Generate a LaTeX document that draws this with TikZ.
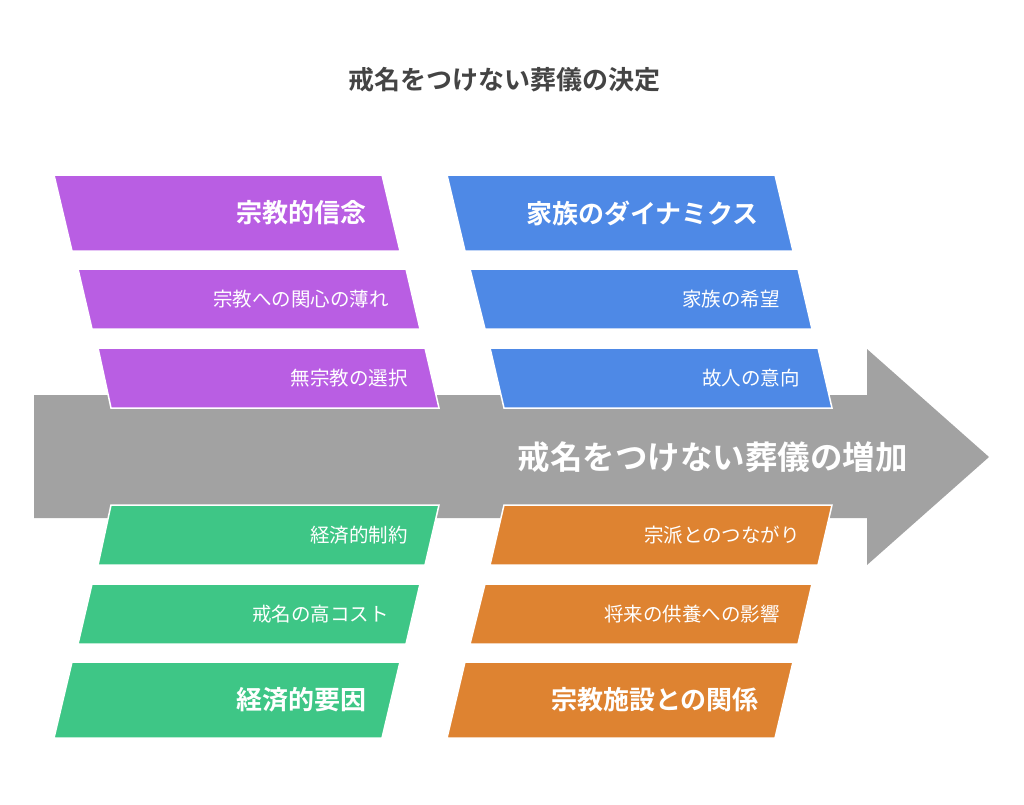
\documentclass[tikz,border=0pt]{standalone}
\usepackage{fontspec}
\usepackage{tikz}
\usepackage{xcolor}
\newfontfamily\cjk{Noto Sans CJK JP}[BoldFont={Noto Sans CJK JP Bold}]
\definecolor{beliefc}{RGB}{185,94,227}
\definecolor{familyc}{RGB}{78,137,230}
\definecolor{costc}{RGB}{62,198,134}
\definecolor{templec}{RGB}{222,131,49}
\definecolor{flowc}{RGB}{162,162,162}
\definecolor{titlec}{RGB}{68,68,68}

\begin{document}
\begin{tikzpicture}[x=1pt, y=-1pt, inner sep=0pt,
		slab/.style={draw=white, line width=1.5pt},
		hdr/.style={anchor=east, text=white, font=\cjk\bfseries\fontsize{26}{30}\selectfont},
		sub/.style={anchor=east, text=white, font=\cjk\fontsize{19.5}{23}\selectfont}]
			\useasboundingbox (0,0) rectangle (1024,804);
			\node[text=titlec, font=\cjk\bfseries\fontsize{26}{30}\selectfont] (title) at (504,80) {戒名をつけない葬儀の決定};
			% main arrow
			\fill[flowc] (34,395) -- (867,395) -- (867,349) -- (989,457) -- (867,565) -- (867,518) -- (34,518) -- cycle;
			\node[anchor=east, text=white, font=\cjk\bfseries\fontsize{32.5}{38}\selectfont] (rise) at (908,457) {戒名をつけない葬儀の増加};
			% upper left
			\filldraw[slab, fill=beliefc] (54,175) -- (382,175) -- (400,251) -- (72,251) -- cycle;
			\filldraw[slab, fill=beliefc] (78,269) -- (406,269) -- (420,329) -- (92,329) -- cycle;
			\filldraw[slab, fill=beliefc] (98,348) -- (425,348) -- (439,408) -- (111,408) -- cycle;
			\node[hdr] (belief) at (367,213) {宗教的信念};
			\node[sub] (belief1) at (389,299) {宗教への関心の薄れ};
			\node[sub] (belief2) at (408,378) {無宗教の選択};
			% upper right
			\filldraw[slab, fill=familyc] (447,175) -- (775,175) -- (793,251) -- (465,251) -- cycle;
			\filldraw[slab, fill=familyc] (470,269) -- (798,269) -- (812,329) -- (485,329) -- cycle;
			\filldraw[slab, fill=familyc] (490,348) -- (818,348) -- (832,408) -- (504,408) -- cycle;
			\node[hdr] (family) at (759,213) {家族のダイナミクス};
			\node[sub] (family1) at (780,299) {家族の希望};
			\node[sub] (family2) at (800,378) {故人の意向};
			% lower left
			\filldraw[slab, fill=costc] (111,505) -- (439,505) -- (425,565) -- (98,565) -- cycle;
			\filldraw[slab, fill=costc] (92,584) -- (420,584) -- (406,644) -- (78,644) -- cycle;
			\filldraw[slab, fill=costc] (72,662) -- (400,662) -- (382,738) -- (54,738) -- cycle;
			\node[sub] (cost1) at (408,535) {経済的制約};
			\node[sub] (cost2) at (389,614) {戒名の高コスト};
			\node[hdr] (cost) at (367,700) {経済的要因};
			% lower right
			\filldraw[slab, fill=templec] (504,505) -- (832,505) -- (818,565) -- (490,565) -- cycle;
			\filldraw[slab, fill=templec] (485,584) -- (812,584) -- (798,644) -- (470,644) -- cycle;
			\filldraw[slab, fill=templec] (465,662) -- (793,662) -- (775,738) -- (447,738) -- cycle;
			\node[sub] (temple1) at (800,535) {宗派とのつながり};
			\node[sub] (temple2) at (780,614) {将来の供養への影響};
			\node[hdr] (temple) at (759,700) {宗教施設との関係};
		\end{tikzpicture}
\end{document}
